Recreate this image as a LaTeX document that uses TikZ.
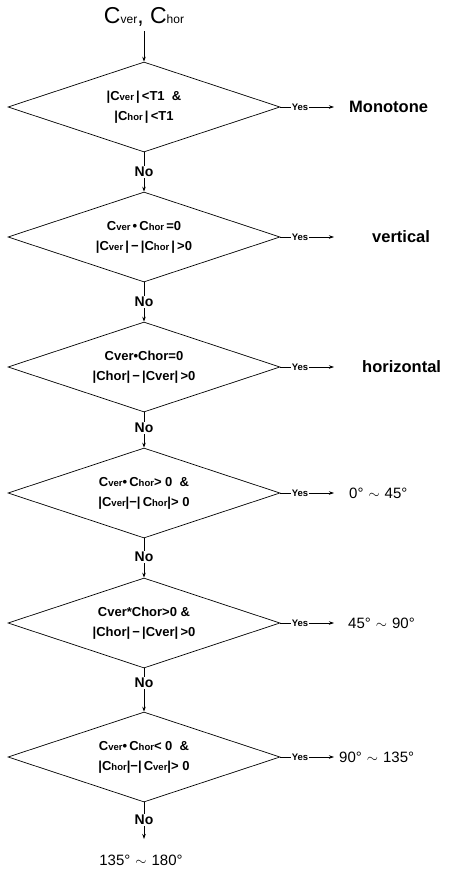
\documentclass[tikz,border=0pt]{standalone}
\usepackage{fontspec}
\setmainfont{Liberation Sans}
\usetikzlibrary{shapes.geometric,arrows.meta}
\newcommand{\smsub}[1]{{\fontsize{9.5}{10}\selectfont #1}}
\newcommand{\topsub}[1]{{\fontsize{12}{12}\selectfont #1}}
\newcommand{\tl}{\hspace{5pt}$\sim$\hspace{5pt}}
\newcommand{\vb}{\textbar}
\newcommand{\mn}{\,−\,}
\begin{document}
\begin{tikzpicture}[x=1pt,y=-1pt,
  dia/.style={draw,shape=diamond,shape aspect=3,inner sep=0pt,minimum width=272pt,minimum height=90pt,
    align=center,font=\fontsize{13}{20}\selectfont\bfseries,line width=0.7pt},
  nolab/.style={font=\fontsize{14}{15}\selectfont\bfseries,inner sep=1pt},
  yeslab/.style={font=\fontsize{9.5}{10}\selectfont\bfseries,inner sep=1pt},
  outc/.style={anchor=west,font=\fontsize{15}{16}\selectfont,inner sep=0pt},
  outb/.style={outc,font=\fontsize{16.5}{18}\selectfont\bfseries},
  conn/.style={line width=0.7pt},
  arr/.style={line width=0.7pt,-{Stealth[length=5pt,width=3.5pt]}}]
\useasboundingbox (0,0) rectangle (461,871);

\node[font=\fontsize{23}{24}\selectfont,inner sep=1pt] (top) at (144,17)
  {C\topsub{ver}, C\topsub{hor}};
\coordinate (t0) at (144,31);

\node[dia] (d1) at (144,107) {\vb C\smsub{ver}\,\vb\,<T1 \ \&\\ \vb C\smsub{hor}\,\vb\,<T1};
\node[dia] (d2) at (144,237) {C\smsub{ver}\,•\,C\smsub{hor}\,=0\\ \vb C\smsub{ver}\,\vb\mn\vb C\smsub{hor}\,\vb\,>0};
\node[dia] (d3) at (144,367) {Cver•Chor=0\\ \vb Chor\vb\mn\vb Cver\vb\,>0};
\node[dia] (d4) at (144,493) {C\smsub{ver}•\,C\smsub{hor}> 0 \ \&\\ \vb C\smsub{ver}\vb−\vb\,C\smsub{hor}\vb> 0};
\node[dia] (d5) at (144,623) {Cver*Chor>0 \&\\ \vb Chor\vb\mn\vb Cver\vb\,>0};
\node[dia] (d6) at (144,757) {C\smsub{ver}•\,C\smsub{hor}< 0 \ \&\\ \vb C\smsub{hor}\vb−\vb\,C\smsub{ver}\vb> 0};

\draw[arr] (t0) -- (d1.north);

\foreach \i/\y in {1/172,2/302,3/428,4/557,5/683,6/820}{
  \node[nolab] (no\i) at (144,\y) {No};
  \draw[conn] (d\i.south) -- (no\i.north);
}
\draw[arr] (no1.south) -- (d2.north);
\draw[arr] (no2.south) -- (d3.north);
\draw[arr] (no3.south) -- (d4.north);
\draw[arr] (no4.south) -- (d5.north);
\draw[arr] (no5.south) -- (d6.north);

\node[outc,anchor=center] (fin) at (141,860) {135°\tl180°};
\coordinate (finarr) at (144,839);
\draw[arr] (no6.south) -- (finarr);

\foreach \i/\sty/\txt/\ox/\y in {1/outb/{Monotone}/349/107,2/outb/{vertical}/372/237,3/outb/{horizontal}/362/367,
  4/outc/{0°\tl45°}/349/493,5/outc/{45°\tl90°}/348/623,6/outc/{90°\tl135°}/339/757}{
  \node[yeslab] (y\i) at (300,\y) {Yes};
  \coordinate (ae\i) at (334,\y);
  \draw[conn] (d\i.east) -- (y\i.west);
  \node[\sty] (o\i) at (\ox,\y) {\txt};
  \draw[arr] (y\i.east) -- (ae\i);
}
\end{tikzpicture}
\end{document}
